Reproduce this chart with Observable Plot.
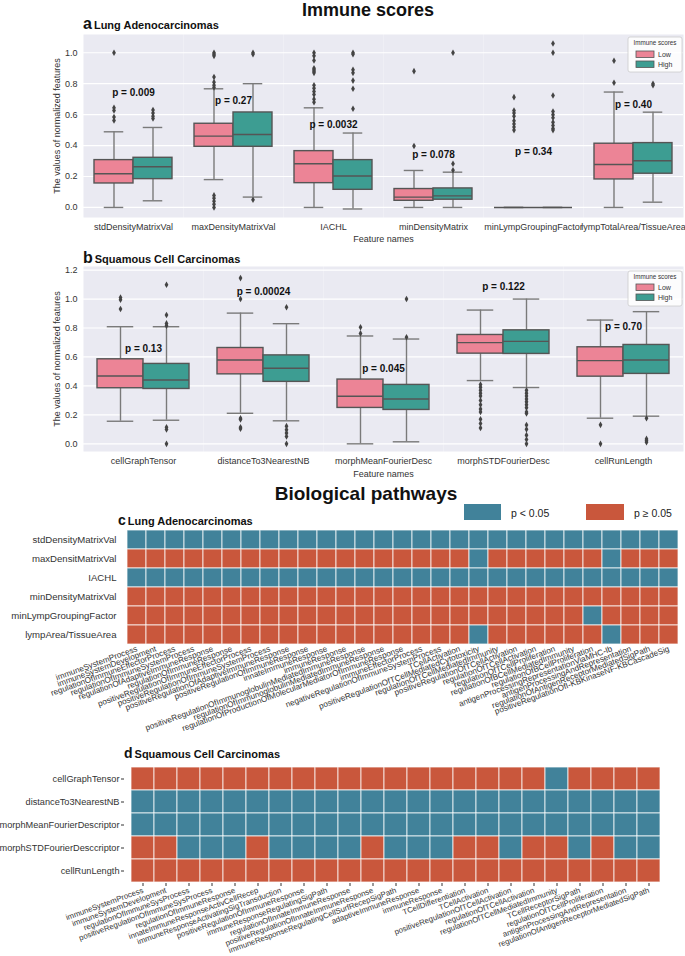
<!DOCTYPE html>
<html><head><meta charset="utf-8">
<script src="https://cdn.jsdelivr.net/npm/d3@7"></script>
<script src="https://cdn.jsdelivr.net/npm/@observablehq/plot@0.6"></script>
<style>
body{margin:0;background:#fff}
#root{position:relative;width:685px;height:956px;overflow:hidden;font-family:"Liberation Sans",Arial,sans-serif;background:#fff}
</style></head><body><div id="root"></div>
<script>
// ---------- Panel a : Lung Adenocarcinomas ----------
const aFeatures = ["stdDensityMatrixVal","maxDensityMatrixVal","IACHL","minDensityMatrix","minLympGroupingFactor","lympTotalArea/TissueArea"];
const aLowMin  = [0.0, 0.18, 0.0, 0.0, 0.0, 0.0];
const aLowQ1   = [0.155, 0.392, 0.157, 0.043, 0.0, 0.181];
const aLowMed  = [0.218, 0.461, 0.282, 0.067, 0.0, 0.278];
const aLowQ3   = [0.306, 0.541, 0.364, 0.119, 0.0, 0.412];
const aLowMax  = [0.489, 0.767, 0.644, 0.239, 0.0, 0.746];
const aLowOut  = [
  [1.0, 0.644, 0.627, 0.584, 0.562],
  [1.0, 0.99, 0.98, 0.843, 0.81, 0.79, 0.775, 0.078, 0.06, 0.04, 0.02, 0.0],
  [1.0, 0.98, 0.95, 0.9, 0.89, 0.88, 0.87, 0.79, 0.77, 0.75, 0.73, 0.70, 0.68],
  [0.881, 0.397],
  [0.713, 0.627, 0.61, 0.59, 0.56, 0.54, 0.52, 0.50],
  [0.948, 0.806]
];
const aHighMin = [0.043, 0.067, -0.01, 0.0, 0.0, 0.034];
const aHighQ1  = [0.183, 0.392, 0.114, 0.05, 0.0, 0.218];
const aHighMed = [0.263, 0.472, 0.203, 0.075, 0.0, 0.302];
const aHighQ3  = [0.321, 0.614, 0.306, 0.123, 0.0, 0.416];
const aHighMax = [0.517, 0.80, 0.481, 0.228, 0.0, 0.616];
const aHighOut = [
  [0.63, 0.61, 0.59, 0.575],
  [1.0, 0.99, 0.05],
  [1.0, 0.99, 0.89, 0.87, 0.82, 0.767, 0.638],
  [1.0, 0.282, 0.24],
  [1.06, 1.0, 0.724, 0.62, 0.6, 0.58, 0.55, 0.53, 0.51, 0.50],
  [0.80, 0.79]
];
const aPText = ["p = 0.009","p = 0.27","p = 0.0032","p = 0.078","p = 0.34","p = 0.40"];
const aPY    = [0.739, 0.687, 0.537, 0.343, 0.358, 0.666];
const aYTicks = [0, 0.2, 0.4, 0.6, 0.8, 1.0];

// ---------- Panel b : Squamous Cell Carcinomas ----------
const bFeatures = ["cellGraphTensor","distanceTo3NearestNB","morphMeanFourierDesc","morphSTDFourierDesc","cellRunLength"];
const bLowMin  = [0.156, 0.211, 0.0, 0.437, 0.177];
const bLowQ1   = [0.384, 0.48, 0.248, 0.623, 0.464];
const bLowMed  = [0.469, 0.579, 0.329, 0.699, 0.575];
const bLowQ3   = [0.584, 0.662, 0.444, 0.752, 0.667];
const bLowMax  = [0.809, 0.903, 0.745, 0.924, 0.855];
const bLowOut  = [
  [1.011, 0.995, 0.931],
  [1.145, 1.0, 0.177, 0.168, 0.115, 0.104],
  [0.805, 0.763],
  [0.41, 0.39, 0.37, 0.35, 0.33, 0.30, 0.27, 0.24, 0.22, 0.17, 0.14, 0.11],
  [0.131, 0.0]
];
const bHighMin = [0.163, 0.159, 0.014, 0.389, 0.191];
const bHighQ1  = [0.379, 0.428, 0.234, 0.621, 0.483];
const bHighMed = [0.441, 0.522, 0.31, 0.708, 0.579];
const bHighQ3  = [0.552, 0.611, 0.407, 0.784, 0.683];
const bHighMax = [0.809, 0.83, 0.724, 1.0, 0.913];
const bHighOut = [
  [1.099, 0.89, 0.832, 0.816, 0.115, 0.099, 0.0],
  [0.943, 0.122, 0.097, 0.074, 0.051, 0.0],
  [1.0, 0.736],
  [0.37, 0.35, 0.33, 0.31, 0.29, 0.27, 0.25, 0.22, 0.21, 0.13, 0.10, 0.06, 0.03, 0.0],
  [0.177, 0.034, 0.022, 0.011]
];
const bPText = ["p = 0.13","p = 0.00024","p = 0.045","p = 0.122","p = 0.70"];
const bPY    = [0.655, 1.053, 0.517, 1.085, 0.811];
const bYTicks = [0, 0.2, 0.4, 0.6, 0.8, 1.0, 1.2];

const groups = ["Low","High"];

// ---------- Panel c : pathways, Lung Adenocarcinomas ----------
const cFeatures = ["stdDensityMatrixVal","maxDensitMatrixVal","IACHL","minDensityMatrixVal","minLympGroupingFactor","lympArea/TissueArea"];
const cPathways = ["immuneSystemProcess","immuneSystemDevelopment","regulationOfImmuneEffectorProcess","regulationOfImmuneSystemProcess",
  "regulationOfAdaptiveImmuneResponse","regulationOfImmuneResponse","positiveRegulationOfImmuneEffectorProcess",
  "positiveRegulationOfImmuneSystemProcess","positiveRegulationOfAdaptiveImmuneResponse","positiveRegulationOfImmuneResponse",
  "innateImmuneResponse","immuneResponse","positiveRegulationOfImmunoglobulinMediatedImmuneResponse",
  "regulationOfImmunoglobulinMediatedImmuneResponse","regulationOfProductionOfMolecularMediatorOfImmuneResponse",
  "immuneEffectorProcess","negativeRegulationOfImmuneSystemProcess","TCellActivation",
  "positiveRegulationOfTCellMediatedCytotoxicity","regulationOfTCellMediatedImmunity","positiveRegulationOfTCellActivation",
  "regulationOfTCellActivation","regulationOfTCellProliferation","regulationOfBCellMediatedImmunity","regulationOfBCellProliferation",
  "antigenProcessingRepresentationViaMHC-Ib","antigenProcessingAndRepresentation","regulationOfAntigenReceptorMediatedSigPath",
  "positiveRegulationOfI-KBKinaseNF-KBCascadeSig"];
// 1 = p < 0.05, 0 = p >= 0.05
const cMatrix = [
  [1,1,1,1,1,1,1,1,1,1,1,1,1,1,1,1,1,1,1,1,1,1,1,1,1,1,1,1,1],
  [0,0,0,0,0,0,0,0,0,0,0,0,0,0,0,0,0,0,1,0,0,0,0,0,0,1,0,0,0],
  [1,1,1,1,1,1,1,1,1,1,1,1,1,1,1,1,1,1,1,1,1,1,1,1,1,1,1,1,1],
  [0,0,0,0,0,0,0,0,0,0,0,0,0,0,0,0,0,0,0,0,0,0,0,0,0,0,0,0,0],
  [0,0,0,0,0,0,0,0,0,0,0,0,0,0,0,0,0,0,0,0,0,0,0,0,1,0,0,0,0],
  [0,0,0,0,0,0,0,0,0,0,0,0,0,0,0,0,0,0,1,0,0,0,0,0,0,1,0,0,0]
];

// ---------- Panel d : pathways, Squamous Cell Carcinomas ----------
const dFeatures = ["cellGraphTensor","distanceTo3NearestNB","morphMeanFourierDescriptor","morphSTDFourierDesccriptor","cellRunLength"];
const dPathways = ["immuneSystemProcess","immuneSystemDevelopment","regulationOfImmuneSysProcess","positiveRegulationOfImmuneSysProcess",
  "regulationOfImmuneResponse","innateImmuneResponseActivCellRecep","immuneResponseActivatingSigTransduction",
  "positiveRegulationOfImmuneResponse","immuneResponseRegulatingSigPath","regulationOfInnateImmuneResponse",
  "positiveRegulationOfInnateImmuneResponse","immuneResponseRegulatingCellSurfRecepSigPath","adaptiveImmuneResponse",
  "immuneResponse","TCellDifferentiation","TCellActivation","positiveRegulationOfTCellActivation","regulationOfTCellActivation",
  "regulationOfTCellMediatedImmunity","TCellReceptorSigPath","regulationOfTCellProliferation",
  "antigenProcessingAndRepresentation","regulationOfAntigenReceptorMediatedSigPath"];
const dMatrix = [
  [0,0,0,0,0,0,0,0,0,0,0,0,0,0,0,0,0,0,1,0,0,0,0],
  [1,1,1,1,1,1,1,1,1,1,1,1,1,1,1,1,1,1,1,1,1,1,1],
  [1,1,1,1,1,1,1,1,1,1,1,1,1,1,1,1,1,1,1,1,1,1,1],
  [0,0,1,1,1,0,1,1,1,1,0,1,1,1,0,0,1,0,0,1,0,1,1],
  [0,0,0,0,0,0,0,0,0,0,0,0,0,0,0,0,0,0,0,0,0,0,0]
];
const sigLabels = ["p < 0.05", "p ≥ 0.05"];

// ---------- styling ----------
const FONT = '"Liberation Sans", Arial, sans-serif';
const PINK = "#EC8496", TEAL = "#3D9D92", BLUE = "#41829A", RED = "#C9573C";
const root = document.getElementById("root");

function place(el, left, top) {
  el.style.position = "absolute";
  el.style.left = left + "px";
  el.style.top = top + "px";
  root.appendChild(el);
}

function setAxisFont(svg, axis, size) {
  let nodes = svg.querySelectorAll(`[aria-label="${axis}-axis tick label"] text`);
  if (!nodes.length) nodes = svg.querySelectorAll(`[aria-label="${axis}-axis"] text`);
  nodes.forEach(n => n.setAttribute("font-size", size));
}

function boxPanel(features, low, high, lowOut, highOut, pText, pY, yDomain, yTicks, marginBottom, labelOffset) {
  const rows = [], outs = [];
  features.forEach((f, i) => {
    [["Low", low], ["High", high]].forEach(([g, s]) =>
      rows.push({feature: f, group: g, min: s[0][i], q1: s[1][i], med: s[2][i], q3: s[3][i], max: s[4][i]}));
    lowOut[i].forEach(v => outs.push({feature: f, group: "Low", v}));
    highOut[i].forEach(v => outs.push({feature: f, group: "High", v}));
  });
  const pRows = features.map((f, i) => ({feature: f, text: pText[i], y: pY[i]}));
  const W = "#7a7a7a", E = "#555";
  return Plot.plot({
    width: 685, height: 215,
    marginLeft: 83, marginRight: 2, marginTop: 4, marginBottom,
    style: {background: "transparent", fontFamily: FONT, fontSize: "9px", color: "#333", overflow: "visible"},
    fx: {domain: features, padding: 0, axis: "bottom", label: "Feature names", labelAnchor: "center",
         labelOffset, tickSize: 0, tickPadding: 6},
    x: {domain: groups, paddingInner: 0, paddingOuter: 0.28, axis: null},
    y: {domain: yDomain, ticks: yTicks, tickFormat: d3.format(".1f"), tickSize: 0, tickPadding: 6,
        label: "The values of normalized features", labelAnchor: "center", labelOffset: 30, labelArrow: "none"},
    color: {domain: groups, range: [PINK, TEAL]},
    marks: [
      Plot.frame({fill: "#EAEAF2", stroke: null}),
      Plot.ruleY(yTicks, {stroke: "white", strokeWidth: 1.2}),
      Plot.ruleX(rows, {fx: "feature", x: "group", y1: "min", y2: "q1", stroke: W, strokeWidth: 1.4}),
      Plot.ruleX(rows, {fx: "feature", x: "group", y1: "q3", y2: "max", stroke: W, strokeWidth: 1.4}),
      Plot.tickY(rows, {fx: "feature", x: "group", y: "min", stroke: W, strokeWidth: 1.4, insetLeft: 9.75, insetRight: 9.75}),
      Plot.tickY(rows, {fx: "feature", x: "group", y: "max", stroke: W, strokeWidth: 1.4, insetLeft: 9.75, insetRight: 9.75}),
      Plot.barY(rows, {fx: "feature", x: "group", y1: "q1", y2: "q3", fill: "group", stroke: E, strokeWidth: 1.4, inset: 0}),
      Plot.tickY(rows, {fx: "feature", x: "group", y: "med", stroke: E, strokeWidth: 1.4}),
      Plot.dot(outs, {fx: "feature", x: "group", y: "v", symbol: "diamond", r: 2, fill: "#444", stroke: "none"}),
      Plot.text(pRows, {fx: "feature", y: "y", text: "text", fontWeight: "bold", fontSize: 10, fill: "#111"})
    ]
  });
}

function heatPanel(features, pathways, matrix, height, mL, mR, mT, mB, tickSize, xPad, yPad, xFont, yFont) {
  const cells = features.flatMap((f, r) => pathways.map((p, c) => ({feature: f, pathway: p, sig: sigLabels[matrix[r][c] ? 0 : 1]})));
  const svg = Plot.plot({
    width: 685, height,
    marginLeft: mL, marginRight: mR, marginTop: mT, marginBottom: mB,
    style: {background: "transparent", fontFamily: FONT, fontSize: "9.5px", color: "#333", overflow: "visible"},
    x: {domain: pathways, padding: 0, tickRotate: -20, tickSize, tickPadding: xPad, label: null},
    y: {domain: features, padding: 0, tickSize, tickPadding: yPad, label: null},
    color: {domain: sigLabels, range: [BLUE, RED]},
    marks: [
      Plot.cell(cells, {x: "pathway", y: "feature", fill: "sig", stroke: "white", strokeWidth: 1, strokeOpacity: 0.75, inset: 0})
    ]
  });
  setAxisFont(svg, "x", xFont);
  setAxisFont(svg, "y", yFont);
  return svg;
}

place(boxPanel(aFeatures, [aLowMin, aLowQ1, aLowMed, aLowQ3, aLowMax], [aHighMin, aHighQ1, aHighMed, aHighQ3, aHighMax],
  aLowOut, aHighOut, aPText, aPY, [-0.065, 1.118], aYTicks, 28, 24), 0, 30);
place(boxPanel(bFeatures, [bLowMin, bLowQ1, bLowMed, bLowQ3, bLowMax], [bHighMin, bHighQ1, bHighMed, bHighQ3, bHighMax],
  bLowOut, bHighOut, bPText, bPY, [-0.053, 1.225], bYTicks, 26, 25), 0, 262);
place(heatPanel(cFeatures, cPathways, cMatrix, 200, 121, 2, 4, 81, 0, 4, 5, 8.2, 9.6), 0, 525);
place(heatPanel(dFeatures, dPathways, dMatrix, 196, 124, 18, 6, 73, 3, 3.5, 2, 7.8, 9.2), 0, 760);

// ---------- titles and legends ----------
const ns = "http://www.w3.org/2000/svg";
const ann = document.createElementNS(ns, "svg");
ann.setAttribute("width", 685); ann.setAttribute("height", 956);
ann.style.pointerEvents = "none";
ann.style.fontFamily = FONT;
function legendBox(x, y, ty, lowY, highY) {
  return `<rect x="${x}" y="${y}" width="54" height="35" rx="2" fill="white" fill-opacity="0.85" stroke="#ccc" stroke-width="0.8"/>
  <text x="${x+27}" y="${ty}" font-size="6.3" text-anchor="middle" fill="#333">Immune scores</text>
  <rect x="${x+8}" y="${lowY-6}" width="18" height="6.5" fill="${PINK}" stroke="#555" stroke-width="0.8"/>
  <text x="${x+30}" y="${lowY}" font-size="7" fill="#333">${groups[0]}</text>
  <rect x="${x+8}" y="${highY-6}" width="18" height="6.5" fill="${TEAL}" stroke="#555" stroke-width="0.8"/>
  <text x="${x+30}" y="${highY}" font-size="7" fill="#333">${groups[1]}</text>`;
}
ann.innerHTML = `
<text x="368" y="15.5" font-size="18" font-weight="bold" text-anchor="middle" fill="#111">Immune scores</text>
<text x="83" y="29" font-weight="bold" fill="#111"><tspan font-size="16">a</tspan><tspan font-size="11" dx="2">Lung Adenocarcinomas</tspan></text>
${legendBox(628, 37, 45, 57, 67)}
<text x="83" y="263" font-weight="bold" fill="#111"><tspan font-size="16">b</tspan><tspan font-size="11" dx="2">Squamous Cell Carcinomas</tspan></text>
${legendBox(628, 271, 279, 290, 300)}
<text x="366" y="500" font-size="19" font-weight="bold" text-anchor="middle" fill="#111">Biological pathways</text>
<rect x="464" y="504" width="37" height="16" fill="${BLUE}"/>
<text x="511" y="517" font-size="10.5" fill="#222">${sigLabels[0]}</text>
<rect x="586" y="504" width="38" height="16" fill="${RED}"/>
<text x="634" y="517" font-size="10.5" fill="#222">${sigLabels[1]}</text>
<text x="118" y="525" font-weight="bold" fill="#111"><tspan font-size="14">c</tspan><tspan font-size="11" dx="2">Lung Adenocarcinomas</tspan></text>
<text x="124" y="758" font-weight="bold" fill="#111"><tspan font-size="14">d</tspan><tspan font-size="11" dx="2">Squamous Cell Carcinomas</tspan></text>
`;
place(ann, 0, 0);
</script></body></html>
